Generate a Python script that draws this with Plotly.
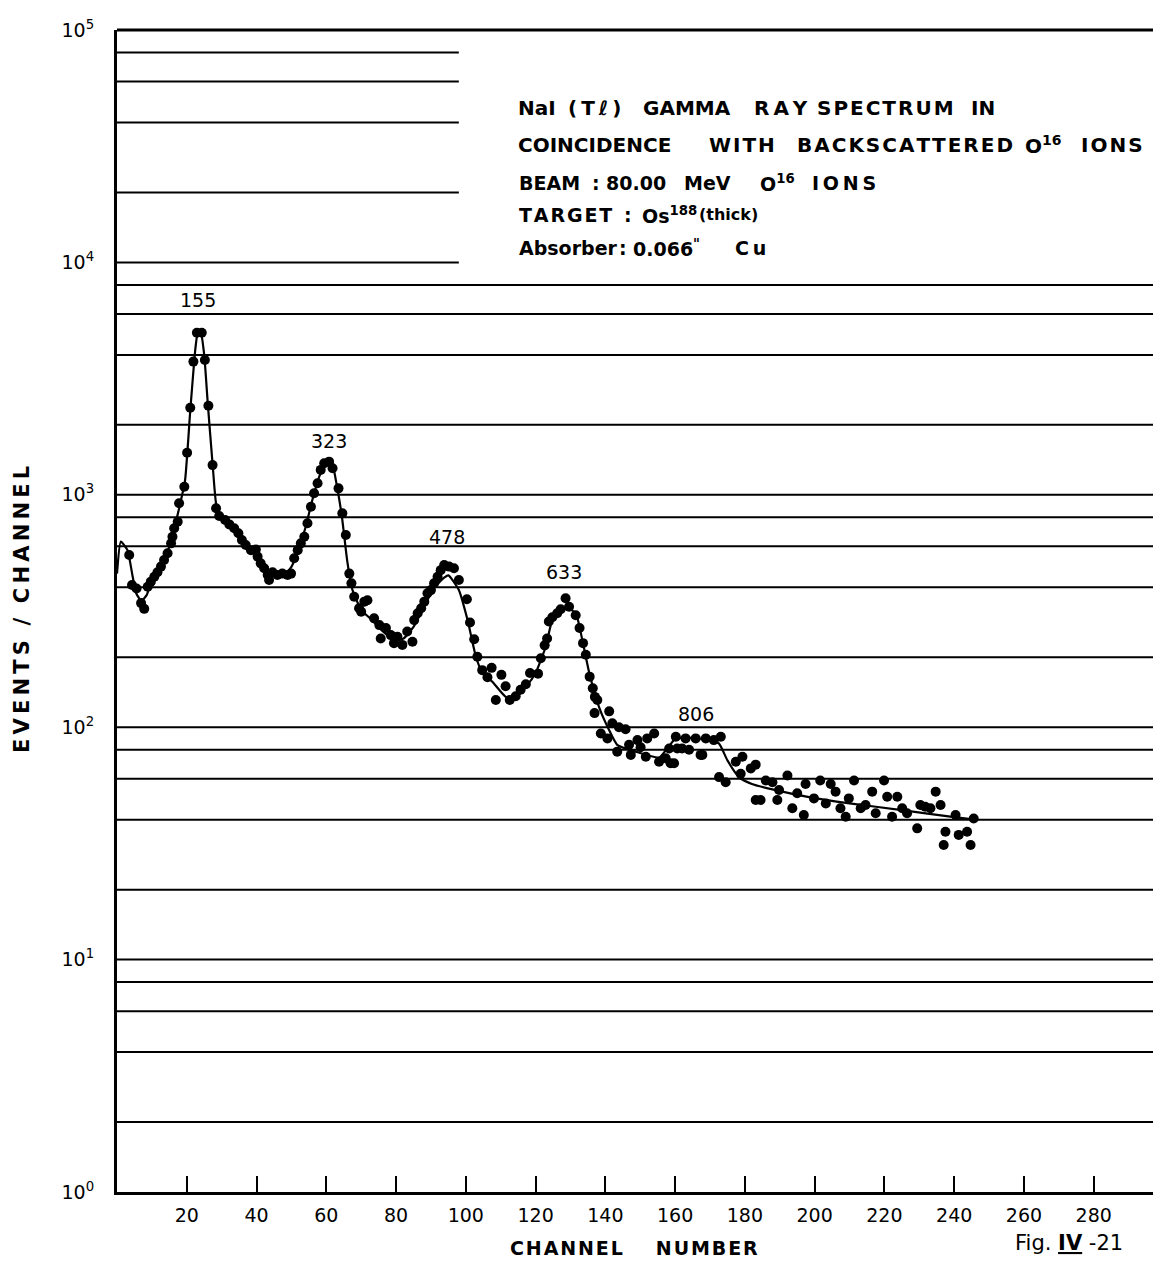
import math
import plotly.graph_objects as go

# ---------------- data ----------------
channel = [3.5, 4.3, 5.6, 6.9, 7.8, 8.8, 9.7, 10.7, 11.6, 12.6, 13.5, 14.5, 15.5, 15.9, 16.4,
           17.4, 17.8, 19.3, 20.1, 21.0, 21.9, 22.9, 24.3, 25.2, 26.2, 27.4, 28.4, 29.3, 31.0,
           32.2, 33.6, 34.8, 35.8, 36.9, 38.4, 39.8, 40.3, 41.2, 42.2, 43.2, 43.6, 44.6, 46.0,
           47.4, 48.9, 49.9, 50.8, 51.8, 52.7, 53.7, 54.6, 55.6, 56.5, 57.5, 58.4, 59.4, 60.8,
           61.8, 63.5, 64.6, 65.6, 66.6, 67.2, 68.0, 69.4, 70.0, 70.9, 71.8, 73.7, 75.2, 75.6,
           77.1, 78.5, 79.4, 80.4, 81.8, 83.2, 84.7, 85.2, 86.2, 87.2, 88.1, 89.0, 90.0, 90.9,
           91.9, 92.8, 93.8, 95.2, 96.6, 98.0, 100.3, 101.2, 102.4, 103.3, 104.7, 106.2, 107.4,
           108.6, 110.2, 111.4, 112.6, 114.3, 115.7, 117.2, 118.4, 120.7, 121.5, 122.6, 123.3,
           123.8, 124.8, 126.2, 127.2, 128.6, 129.6, 131.5, 132.6, 133.6, 134.4, 135.5, 136.4,
           137.0, 137.7, 136.9, 138.7, 140.6, 141.1, 142.0, 143.4, 143.9, 145.8, 146.8, 147.3,
           149.2, 150.1, 151.6, 152.0, 154.0, 155.4, 157.3, 158.3, 158.7, 159.7, 160.2, 160.6,
           162.0, 163.0, 164.0, 165.9, 167.3, 167.8, 168.8, 171.1, 172.6, 173.1, 174.5, 177.4,
           178.8, 179.3, 181.7, 183.1, 183.1, 184.5, 186.0, 187.9, 189.3, 189.8, 192.2, 193.6,
           195.0, 196.9, 197.4, 199.8, 201.6, 203.2, 204.6, 206.0, 207.4, 208.9, 209.8, 211.3,
           213.2, 214.6, 216.5, 217.5, 219.9, 220.8, 222.2, 223.7, 225.1, 226.5, 229.4, 230.3,
           231.7, 233.2, 234.7, 236.1, 237.0, 237.5, 240.4, 241.3, 243.7, 244.7, 245.6]
counts = [551, 409, 395, 342, 323, 402, 423, 444, 464, 491, 524, 560, 618, 660, 718,
          766, 919, 1083, 1517, 2371, 3742, 4980, 4980, 3800, 2415, 1342, 875, 811, 779,
          746, 718, 683, 639, 608, 578, 581, 542, 507, 483, 452, 430, 464, 452,
          458, 452, 458, 533, 578, 618, 660, 754, 889, 1015, 1121, 1280, 1367, 1389,
          1300, 1066, 832, 671, 458, 416, 364, 325, 314, 347, 352, 294, 275, 241,
          267, 249, 230, 245, 226, 258, 233, 289, 309, 325, 347, 377, 389, 416,
          444, 474, 499, 491, 483, 430, 355, 282, 239, 201, 176, 164, 180,
          131, 168, 150, 131, 136, 145, 153, 171, 170, 198, 225, 241,
          285, 297, 309, 322, 359, 330, 303, 267, 230, 205, 165, 147,
          135, 131, 115, 94, 89.5, 117, 104, 78.5, 100, 98, 84, 76,
          88, 82, 74.6, 89.5, 94, 71, 73.5, 81, 70, 70, 91, 81,
          81, 89.5, 80, 89.5, 76, 76, 89.5, 88, 61, 91, 58, 71,
          63, 74.6, 66.5, 69, 48.6, 48.6, 59, 58, 48.6, 53.7, 62, 44.8,
          52, 41.9, 57, 49.4, 59, 47, 57, 52.8, 44.8, 41.2, 49.4, 59,
          44.8, 46.3, 52.8, 42.6, 59, 50.2, 41.2, 50.2, 44.8, 42.6, 36.7, 46.3,
          45.5, 44.8, 52.8, 46.3, 31.1, 35.5, 41.9, 34.4, 35.5, 31.1, 40.5]

fit_channel = [0, 1.1, 3, 4.5, 5.5, 7, 8.5, 10, 12, 14, 16, 18, 19.5, 21, 22.5, 23.2, 24, 25,
               26, 27.5, 28.5, 30, 33, 36, 39, 42, 45, 48, 50, 52, 54, 56, 58, 60, 61.5, 63,
               64.5, 66, 67.5, 70, 73, 76, 79, 82, 85, 88, 91, 93.8, 95, 98, 100.5, 102.9,
               104.8, 107.6, 111.5, 114.3, 117.2, 120, 122.9, 124.8, 127.2, 129.1, 131.5,
               133.4, 135.4, 138.2, 141.1, 143.4, 148.7, 155.4, 158, 160, 165, 170, 172.6,
               175, 178.3, 182, 187.9, 198.4, 210, 225, 240, 246]
fit_counts = [458, 629, 578, 444, 377, 350, 370, 430, 480, 540, 680, 900, 1150, 2300, 4300,
              5000, 5000, 4000, 2500, 1300, 900, 810, 730, 630, 560, 480, 455, 455, 490, 580,
              720, 950, 1200, 1390, 1390, 1100, 800, 520, 390, 320, 290, 260, 240, 240, 270,
              330, 400, 440, 450, 389, 289, 201, 171, 157, 135, 135, 149, 171, 222, 289, 318,
              325, 310, 237, 171, 122, 97, 84, 78.5, 74, 82, 89, 90, 88, 85, 72, 61, 57, 54,
              50, 47, 44, 41, 40]

peak_labels = ["155", "323", "478", "633", "806"]
peak_label_channel = [23.3, 60.8, 94.6, 128.2, 166.0]
peak_label_counts = [6890, 1700, 658, 466, 114]

x_tickvals = [20, 40, 60, 80, 100, 120, 140, 160, 180, 200, 220, 240, 260, 280]
y_tickvals = [1, 10, 100, 1000, 10000, 100000]
y_ticktext = ["10<sup>0</sup>", "10<sup>1</sup>", "10<sup>2</sup>", "10<sup>3</sup>",
              "10<sup>4</sup>", "10<sup>5</sup>"]
grid_full = [2, 4, 6, 8, 10, 20, 40, 60, 80, 100, 200, 400, 600, 800, 1000,
             2000, 4000, 6000, 8000]
grid_short = [10000, 20000, 40000, 60000, 80000]

NB = "\u00a0"
TS = "\u2009"   # thin space (letter spacing)
HS = "\u200a"   # hair space (letter spacing)


def spaced(word, sep):
    return sep.join(word) if sep else word


# legend block: (word, letter-spacing, start pixel) per word, line centre pixel, font size
info_lines = [
    ([("NaI", "", 516), ("(T\u2113)", TS, 566), ("GAMMA", "", 641), ("RAY", TS, 752),
      ("SPECTRUM", HS, 815), ("IN", "", 969)], 108, 20),
    ([("COINCIDENCE", "", 516), ("WITH", HS, 707), ("BACKSCATTERED", HS, 795),
      ("O<sup>16</sup>", "", 1023), ("IONS", HS, 1079)], 145, 20),
    ([("BEAM", "", 517), (":", "", 590), ("80.00", "", 604), ("MeV", "", 682),
      ("O<sup>16</sup>", "", 758), ("IONS", TS, 810)], 183, 19),
    ([("TARGET", HS, 517), (":", "", 622), ("Os<sup>188</sup>", "", 640),
      ("<span style='font-size:16px'>(thick)</span>", "", 697)], 215, 19),
    ([("Absorber", "", 517), (":", "", 617), ("0.066<sup>\"</sup>", "", 631),
      ("C" + TS + "u", "", 733)], 248, 19),
]

X_MAX = 297.0
SHORT_END = 98.0
FONT = "DejaVu Sans"


def px(x):
    return (x - 117) / 1036.0


def py(y):
    return (1192 - y) / 1162.0


fig = go.Figure()

gx, gy = [], []
for v in grid_full:
    gx += [0, X_MAX, None]
    gy += [v, v, None]
for v in grid_short:
    gx += [0, SHORT_END, None]
    gy += [v, v, None]
fig.add_trace(go.Scatter(x=gx, y=gy, mode="lines", line=dict(color="black", width=2),
                         hoverinfo="skip", showlegend=False))

fig.add_trace(go.Scatter(x=fit_channel, y=fit_counts, mode="lines",
                         line=dict(color="black", width=2.2, shape="spline", smoothing=0.5),
                         showlegend=False))

fig.add_trace(go.Scatter(x=channel, y=counts, mode="markers",
                         marker=dict(color="black", size=10), showlegend=False))

annotations = []
for lab, cx, cy in zip(peak_labels, peak_label_channel, peak_label_counts):
    annotations.append(dict(x=cx, y=math.log10(cy), xref="x", yref="y", text=lab,
                            showarrow=False, font=dict(family=FONT, size=19, color="black")))

for words, yc, fs in info_lines:
    for w, sep, xs in words:
        annotations.append(dict(x=px(xs), y=py(yc), xref="paper", yref="paper",
                                xanchor="left", yanchor="middle",
                                text="<b>" + spaced(w, sep) + "</b>",
                                showarrow=False, font=dict(family=FONT, size=fs, color="black")))

ytitle = TS.join("EVENTS") + NB * 2 + "/" + NB * 2 + TS.join("CHANNEL")
annotations.append(dict(x=px(22), y=py(610), xref="paper", yref="paper",
                        text="<b>" + ytitle + "</b>", textangle=-90, showarrow=False,
                        xanchor="center", yanchor="middle",
                        font=dict(family=FONT, size=21, color="black")))
xtitle = HS.join("CHANNEL") + NB * 5 + HS.join("NUMBER")
annotations.append(dict(x=px(634), y=py(1248), xref="paper", yref="paper",
                        text="<b>" + xtitle + "</b>", showarrow=False,
                        xanchor="center", yanchor="middle",
                        font=dict(family=FONT, size=19, color="black")))
annotations.append(dict(x=px(1013), y=py(1243), xref="paper", yref="paper",
                        text="Fig." + NB + "<b><u>IV</u></b>" + NB + "-21", showarrow=False,
                        xanchor="left", yanchor="middle",
                        font=dict(family=FONT, size=21, color="black")))

fig.update_layout(
    width=1153, height=1261,
    margin=dict(l=117, r=0, t=30, b=69),
    paper_bgcolor="white", plot_bgcolor="white",
    showlegend=False,
    annotations=annotations,
    shapes=[dict(type="line", xref="paper", yref="paper", x0=0, x1=1, y0=1, y1=1,
                 line=dict(color="black", width=3))],
    xaxis=dict(range=[0, X_MAX], tickvals=x_tickvals, ticks="inside", ticklen=16,
               tickwidth=2, tickcolor="black", showgrid=False, zeroline=False,
               showline=True, linecolor="black", linewidth=3,
               tickfont=dict(family=FONT, size=19, color="black"), ticklabelstandoff=4),
    yaxis=dict(type="log", range=[0, 5], tickvals=y_tickvals, ticktext=y_ticktext,
               ticks="", showgrid=False, zeroline=False, showline=True,
               linecolor="black", linewidth=3,
               tickfont=dict(family=FONT, size=19, color="black"), ticklabelstandoff=16),
)

fig.write_html("out.html")
